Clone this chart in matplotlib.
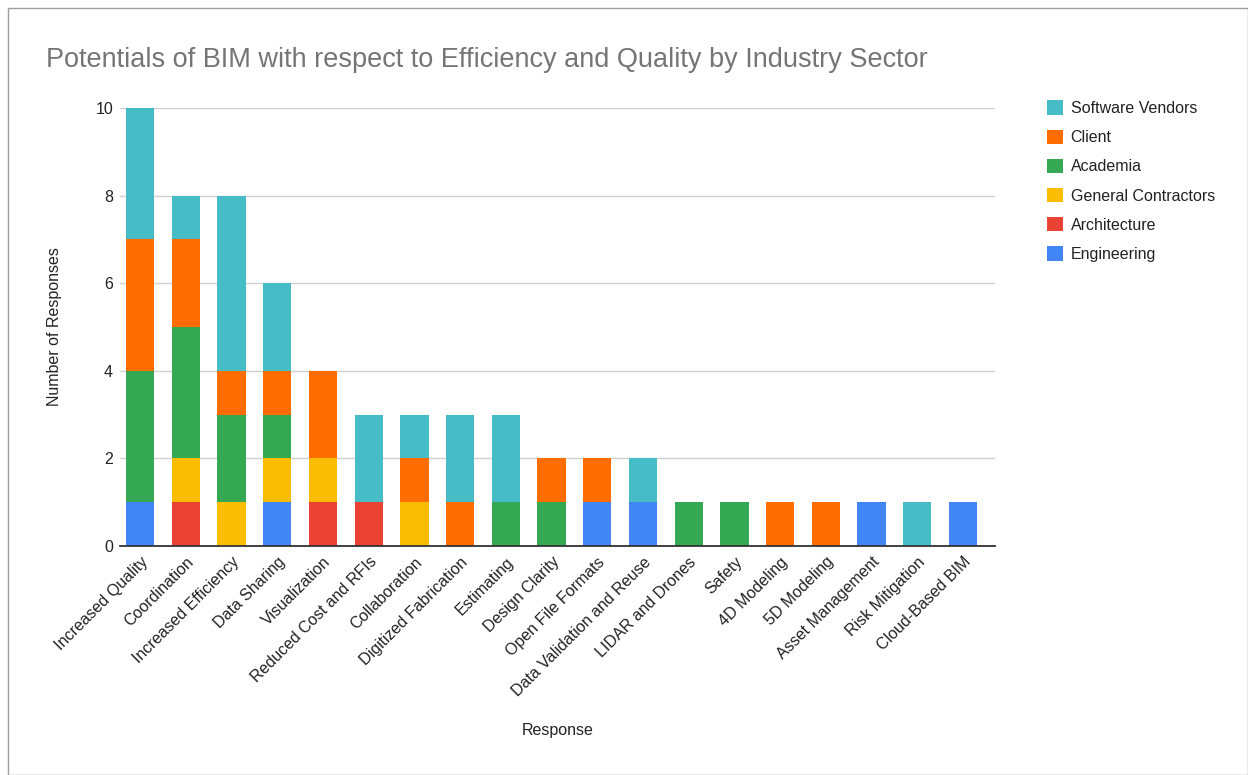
import matplotlib.pyplot as plt
import numpy as np
from matplotlib.patches import Rectangle

plt.rcParams['font.family'] = ['Liberation Sans', 'DejaVu Sans']

responses = ["Increased Quality", "Coordination", "Increased Efficiency", "Data Sharing",
             "Visualization", "Reduced Cost and RFIs", "Collaboration", "Digitized Fabrication",
             "Estimating", "Design Clarity", "Open File Formats", "Data Validation and Reuse",
             "LIDAR and Drones", "Safety", "4D Modeling", "5D Modeling", "Asset Management",
             "Risk Mitigation", "Cloud-Based BIM"]

# stacked bottom to top
engineering = [1, 0, 0, 1, 0, 0, 0, 0, 0, 0, 1, 1, 0, 0, 0, 0, 1, 0, 1]
architecture = [0, 1, 0, 0, 1, 1, 0, 0, 0, 0, 0, 0, 0, 0, 0, 0, 0, 0, 0]
contractors = [0, 1, 1, 1, 1, 0, 1, 0, 0, 0, 0, 0, 0, 0, 0, 0, 0, 0, 0]
academia = [3, 3, 2, 1, 0, 0, 0, 0, 1, 1, 0, 0, 1, 1, 0, 0, 0, 0, 0]
client = [3, 2, 1, 1, 2, 0, 1, 1, 0, 1, 1, 0, 0, 0, 1, 1, 0, 0, 0]
vendors = [3, 1, 4, 2, 0, 2, 1, 2, 2, 0, 0, 1, 0, 0, 0, 0, 0, 1, 0]

series = [("Engineering", engineering, "#4285F4"),
          ("Architecture", architecture, "#EA4335"),
          ("General Contractors", contractors, "#FBBC04"),
          ("Academia", academia, "#34A853"),
          ("Client", client, "#FF6D01"),
          ("Software Vendors", vendors, "#46BDC6")]

W, H = 1248, 775
fig = plt.figure(figsize=(W / 100, H / 100), dpi=100)
ax = fig.add_axes([120 / W, 1 - 546 / H, 875 / W, 438 / H])

x = np.arange(len(responses))
bottom = np.zeros(len(responses))
handles = []
for name, vals, color in series:
    b = ax.bar(x, vals, width=0.62, bottom=bottom, color=color, label=name, zorder=3)
    handles.append(b)
    bottom += np.array(vals)

ax.set_ylim(0, 10)
ax.set_xlim(-0.44, 18.7)
ax.set_yticks(range(0, 11, 2))
ax.grid(axis="y", color="#d0d0d0", lw=1, zorder=0)
for s in ["top", "right", "left"]:
    ax.spines[s].set_visible(False)
ax.spines["bottom"].set_color("#333333")
ax.spines["bottom"].set_linewidth(1.3)
ax.spines["bottom"].set_zorder(4)
ax.tick_params(axis="both", length=0, labelsize=11.5, labelcolor="#222222")
ax.tick_params(axis="y", pad=5)
ax.tick_params(axis="x", pad=6)
ax.set_xticks(x)
ax.set_xticklabels(responses, rotation=45, ha="right", rotation_mode="anchor")

ax.set_ylabel("Number of Responses", fontsize=11.5, color="#222222", labelpad=24)
fig.text(558 / W, 1 - 730 / H, "Response", fontsize=11.5, color="#222222", ha="center", va="center")
fig.text(46 / W, 1 - 60 / H, "Potentials of BIM with respect to Efficiency and Quality by Industry Sector",
         fontsize=19.5, color="#757575", ha="left", va="center")

leg = fig.legend(handles[::-1], [s[0] for s in series][::-1], loc="upper left",
                 bbox_to_anchor=(1033 / W, 1 - 86 / H), frameon=False, fontsize=11.5,
                 handlelength=1.0, handleheight=1.0, labelspacing=0.85, handletextpad=0.45)
for t in leg.get_texts():
    t.set_color("#222222")

fig.patches.append(Rectangle((8 / W, 0), 1 - 8 / W, 1 - 8 / H, transform=fig.transFigure,
                             fill=False, edgecolor="#9e9e9e", lw=1))

fig.savefig("out.png", dpi=100)
